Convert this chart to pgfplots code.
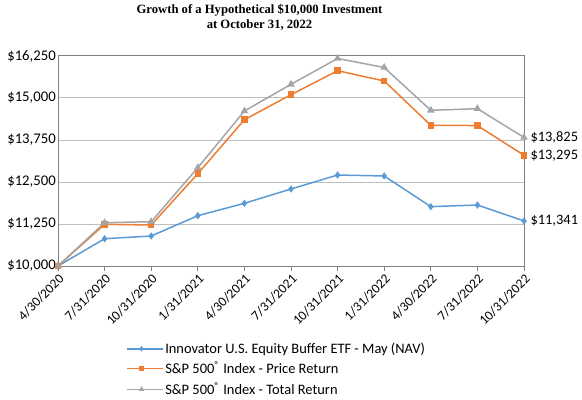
\documentclass[border=0pt]{standalone}
\usepackage{pgfplots}
\pgfplotsset{compat=1.18}
\usetikzlibrary{calc}
\usepackage{fontspec}
\setmainfont{Carlito}
\newfontfamily\titlefont{Liberation Serif}
\definecolor{cblue}{HTML}{5B9BD5}
\definecolor{corange}{HTML}{ED7D31}
\definecolor{cgray}{HTML}{A5A5A5}
\definecolor{cgrid}{HTML}{BFBFBF}
\definecolor{caxis}{HTML}{808080}
\begin{document}
\begin{tikzpicture}
\begin{axis}[
  scale only axis,
  width=466bp, height=210bp,
  xmin=0, xmax=10, ymin=10000, ymax=16250,
  xtick={0,...,10},
  xticklabels={4/30/2020,7/31/2020,10/31/2020,1/31/2021,4/30/2021,7/31/2021,10/31/2021,1/31/2022,4/30/2022,7/31/2022,10/31/2022},
  xticklabel style={rotate=45, anchor=north east, font=\fontsize{13.5}{15}\selectfont, inner sep=1.5pt},
  ytick={10000,11250,12500,13750,15000,16250},
  scaled y ticks=false,
  yticklabels={\$10{,}000,\$11{,}250,\$12{,}500,\$13{,}750,\$15{,}000,\$16{,}250},
  yticklabel style={font=\fontsize{14.8}{16}\selectfont, inner sep=2pt},
  ymajorgrids, major grid style={cgrid, line width=1pt},
  axis line style={caxis, line width=1pt},
  x tick style={caxis, line width=0.8pt}, xtick pos=bottom, xtick align=outside,
  major tick length=5bp,
  y tick style={draw=none},
  clip=false,
  legend style={at={(0.145,-0.355)}, anchor=north west, draw=none, fill=none,
    font=\fontsize{14.5}{16}\selectfont, row sep=3pt, inner sep=0pt,
    /tikz/every even column/.append style={column sep=0pt}},
  legend cell align=left,
  legend image code/.code={
    \draw[#1] (0bp,0bp) -- (15bp,0bp);
    \draw[#1, mark size=1.6pt, mark repeat=2, mark phase=2] plot coordinates {(0bp,0bp)(15bp,0bp)(30bp,0bp)};
    \draw[#1, mark=none] (15bp,0bp) -- (30bp,0bp);
    \path (30bp,0bp) -- (36bp,0bp);
  },
]
\addplot[cblue, line width=1.5pt, mark=diamond*, mark size=2.5pt] coordinates {
(0,10000)(1,10812)(2,10893)(3,11497)(4,11866)(5,12292)(6,12708)(7,12679)(8,11766)(9,11815)(10,11341)};
\addlegendentry{Innovator U.S. Equity Buffer ETF - May (NAV)}
\addplot[corange, line width=1.5pt, mark=square*, mark size=2.5pt] coordinates {
(0,10000)(1,11241)(2,11220)(3,12747)(4,14354)(5,15098)(6,15813)(7,15506)(8,14187)(9,14180)(10,13295)};
\addlegendentry{S\&P 500\textsuperscript{®} Index - Price Return}
\addplot[cgray, line width=1.5pt, mark=triangle*, mark size=3pt] coordinates {
(0,10000)(1,11289)(2,11318)(3,12926)(4,14613)(5,15407)(6,16176)(7,15908)(8,14634)(9,14682)(10,13825)};
\addlegendentry{S\&P 500\textsuperscript{®} Index - Total Return}
\node[anchor=west, font=\fontsize{14.5}{16}\selectfont] at (axis cs:10,13825) {\hspace{3bp}\$13,825};
\node[anchor=west, font=\fontsize{14.5}{16}\selectfont] at (axis cs:10,13295) {\hspace{3bp}\$13,295};
\node[anchor=west, font=\fontsize{14.5}{16}\selectfont] at (axis cs:10,11341) {\hspace{3bp}\$11,341};
\end{axis}
\path (current axis.south west) ++(-58bp,-134bp) coordinate (bl);
\path (current axis.north east) ++(58bp,56bp) coordinate (tr);
\path (current axis.north west) ++(201.5bp,0) coordinate (tc);
\node[font=\titlefont\bfseries\fontsize{12.7}{15}\selectfont, align=center, anchor=north, inner sep=0pt] at ($(tc|-tr)+(0,-4bp)$) {Growth of a Hypothetical \$10,000 Investment\\at October 31, 2022};
\useasboundingbox (bl) rectangle (tr);
\end{tikzpicture}
\end{document}
